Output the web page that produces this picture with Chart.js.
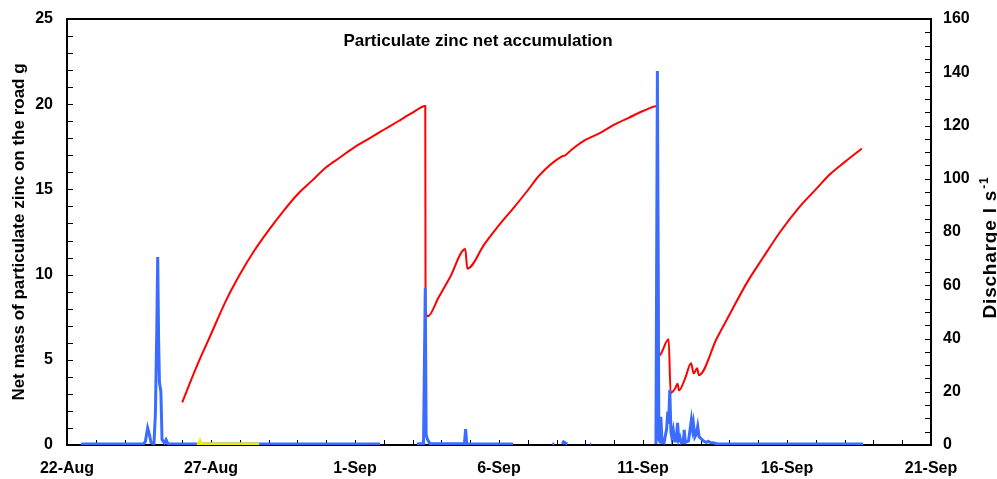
<!DOCTYPE html>
<html>
<head>
<meta charset="utf-8">
<script src="https://cdn.jsdelivr.net/npm/chart.js@4.4.0/dist/chart.umd.min.js"></script>
<style>
  html, body { margin: 0; padding: 0; background: #fff; }
  #chart { display: block; }
</style>
</head>
<body>
<canvas id="chart" width="997" height="479"></canvas>
<script>
// x values are days after 22-Aug
var dateLabels = ['22-Aug', '27-Aug', '1-Sep', '6-Sep', '11-Sep', '16-Sep', '21-Sep'];

// net mass of particulate zinc on the road, g (left axis)
var zincDays = [4.0, 4.5, 5.0, 5.5, 6.0, 6.5, 7.0, 7.5, 8.0, 8.5, 9.0, 9.5, 10.0, 10.5, 11.0, 11.5, 12.0, 12.44,
  12.45, 12.53, 12.9, 13.3, 13.83, 13.9, 14.5, 15.0, 15.5, 16.0, 16.42, 17.2, 17.3, 17.5, 18.0, 18.5, 19.0, 19.5, 20.0, 20.51,
  20.54, 20.62, 20.89, 20.96, 21.11, 21.2, 21.25, 21.46, 21.67, 21.76, 21.88, 21.94, 22.56, 23.02, 23.6, 24.17,
  24.76, 25.45, 26.0, 26.5, 27.0, 27.6];
var zincValues = [2.5, 4.6, 6.5, 8.4, 10.0, 11.4, 12.6, 13.7, 14.7, 15.5, 16.3, 16.9, 17.5, 18.0, 18.5, 19.0, 19.5, 19.9,
  8.0, 7.55, 8.65, 9.85, 11.5, 10.35, 11.8, 12.9, 13.9, 14.95, 15.86, 16.95, 17.0, 17.3, 17.9, 18.3, 18.8, 19.2, 19.6, 19.9,
  5.2, 5.35, 6.2, 3.05, 3.3, 3.6, 3.2, 3.9, 4.8, 4.2, 4.5, 4.1, 6.25, 7.7, 9.5, 11.0,
  12.5, 14.0, 15.0, 15.9, 16.6, 17.4];

// discharge, l/s (right axis); null = no record
var flowDays = [0.49, 2.65, 2.72, 2.8, 2.86, 2.92, 3.02, 3.07, 3.12, 3.15, 3.18, 3.21, 3.26, 3.3, 3.38, 3.44, 3.5, 10.87,
  10.88, 12.15, 12.38, 12.44, 12.47, 12.52, 12.6, 13.8, 13.84, 13.88, 15.49,
  15.5, 16.85, 16.92, 16.93, 17.2, 17.24, 17.37, 17.38, 18.16, 18.2, 18.21,
  20.45, 20.5, 20.55, 20.6, 20.62, 20.66, 20.73, 20.82, 20.86, 20.89, 20.93, 20.97, 21.0, 21.05, 21.1, 21.15, 21.2,
  21.24, 21.28, 21.33, 21.4, 21.43, 21.47, 21.58, 21.68, 21.72, 21.75, 21.8, 21.85, 21.9, 21.95, 22.0, 22.1, 22.2,
  22.27, 22.35, 22.43, 22.6, 27.64];
var flowValues = [0.4, 0.4, 1.2, 6.4, 4, 0.8, 0.5, 12, 45, 70.6, 40, 23.5, 20, 2, 0.8, 2, 0.5, 0.4,
  null, 0.4, 0.6, 59, 3.8, 2, 0.6, 0.5, 6, 0.5, 0.4,
  null, 0.4, 0.4, null, 0.4, 1.2, 0.4, null, 0.4, 0.4, null,
  0.4, 140.5, 2, 1, 10.6, 1, 0.8, 6, 12.5, 8, 20.7, 5, 3, 5.7, 1.5, 1.5, 8.3,
  2, 3, 0.8, 1, 5.7, 1, 1.5, 9.5, 6, 8.1, 3, 4, 7, 3, 2.6, 1.5, 1,
  1.4, 0.8, 0.8, 0.4, 0.4];

// yellow record along the bottom (right axis)
var yellowDays = [4.51, 4.58, 4.62, 4.66, 6.67];
var yellowValues = [0.4, 0.4, 1.5, 0.4, 0.4];

var FONT = 'Arial, "Liberation Sans", sans-serif';

function toPoints(xs, ys) {
  var pts = [];
  for (let i = 0; i < xs.length; i++) {
    pts.push({ x: xs[i], y: ys[i] });
  }
  return pts;
}

// inward tick marks, box frame and the texts Chart.js can't place the same way
const framePlugin = {
  id: 'frame',
  beforeDatasetsDraw(chart) {
    const ctx = chart.ctx;
    const a = chart.chartArea;
    const x = chart.scales.x, y = chart.scales.y, y2 = chart.scales.y2;
    ctx.save();
    ctx.strokeStyle = '#000';
    ctx.lineWidth = 1;
    ctx.beginPath();
    for (let d = 1; d < 30; d++) {
      let px = Math.round(x.getPixelForValue(d)) + 0.5;
      ctx.moveTo(px, a.bottom);
      ctx.lineTo(px, a.bottom - 5);
    }
    for (let v = 1; v < 25; v++) {
      let py = Math.round(y.getPixelForValue(v)) + 0.5;
      ctx.moveTo(a.left, py);
      ctx.lineTo(a.left + 6, py);
    }
    for (let v = 5; v < 160; v += 5) {
      let py = Math.round(y2.getPixelForValue(v)) + 0.5;
      ctx.moveTo(a.right, py);
      ctx.lineTo(a.right - 6, py);
    }
    ctx.stroke();
    ctx.lineWidth = 2;
    ctx.strokeRect(a.left, a.top, a.right - a.left, a.bottom - a.top);
    ctx.restore();
  },
  afterDraw(chart) {
    const ctx = chart.ctx;
    ctx.save();
    ctx.fillStyle = '#000';
    ctx.font = 'bold 17px ' + FONT;
    ctx.textAlign = 'center';
    ctx.textBaseline = 'alphabetic';
    ctx.fillText('Particulate zinc net accumulation', 478, 46);

    // right axis title, reads bottom to top, with superscript -1
    ctx.translate(996, 248);
    ctx.rotate(-Math.PI / 2);
    ctx.textAlign = 'left';
    ctx.letterSpacing = '0.8px';
    let main = 'Discharge l s';
    ctx.font = 'bold 19px ' + FONT;
    let w1 = ctx.measureText(main).width;
    ctx.font = 'bold 12px ' + FONT;
    let w2 = ctx.measureText('-1').width;
    let start = -(w1 + w2) / 2;
    ctx.font = 'bold 19px ' + FONT;
    ctx.fillText(main, start, 0);
    ctx.font = 'bold 12px ' + FONT;
    ctx.fillText('-1', start + w1 + 1, -8);
    ctx.restore();
  }
};

var tickFont = { family: FONT, size: 16, weight: 'bold' };

function noPad(s) {
  s.paddingTop = 0;
  s.paddingBottom = 0;
}

new Chart('chart', {
  type: 'line',
  data: {
    datasets: [{
      label: 'yellow',
      data: toPoints(yellowDays, yellowValues),
      yAxisID: 'y2',
      borderColor: '#f4ea00',
      borderWidth: 3,
      pointRadius: 0,
      order: 0
    }, {
      label: 'Discharge',
      data: toPoints(flowDays, flowValues),
      yAxisID: 'y2',
      borderColor: '#3a6dff',
      borderWidth: 3,
      pointRadius: 0,
      spanGaps: false,
      order: 1
    }, {
      label: 'Particulate zinc',
      data: toPoints(zincDays, zincValues),
      yAxisID: 'y',
      borderColor: '#ff0000',
      borderWidth: 2,
      pointRadius: 0,
      cubicInterpolationMode: 'monotone',
      order: 2
    }]
  },
  options: {
    responsive: false,
    animation: false,
    devicePixelRatio: 1,
    layout: { padding: { top: 19, left: 0, right: 0, bottom: 0 } },
    plugins: {
      legend: { display: false },
      tooltip: { enabled: false }
    },
    scales: {
      x: {
        type: 'linear',
        min: 0,
        max: 30,
        grid: { display: false, drawTicks: false },
        border: { display: false },
        ticks: {
          stepSize: 5,
          autoSkip: false,
          maxRotation: 0,
          padding: 14,
          color: '#000',
          font: tickFont,
          callback: v => dateLabels[v / 5]
        },
        afterFit: s => { s.height = 34; }
      },
      y: {
        position: 'left',
        min: 0,
        max: 25,
        grid: { display: false, drawTicks: false },
        border: { display: false },
        ticks: { stepSize: 5, padding: 14, color: '#000', font: tickFont },
        title: {
          display: true,
          text: 'Net mass of particulate zinc on the road g',
          color: '#000',
          font: { family: FONT, size: 17, weight: 'bold' },
          padding: { top: 9, bottom: 0 }
        },
        afterFit: s => { s.width = 67; noPad(s); }
      },
      y2: {
        position: 'right',
        min: 0,
        max: 160,
        grid: { display: false, drawTicks: false },
        border: { display: false },
        ticks: { stepSize: 20, padding: 12, color: '#000', font: tickFont },
        afterFit: s => { s.width = 66; noPad(s); }
      }
    }
  },
  plugins: [framePlugin]
});
</script>
</body>
</html>
